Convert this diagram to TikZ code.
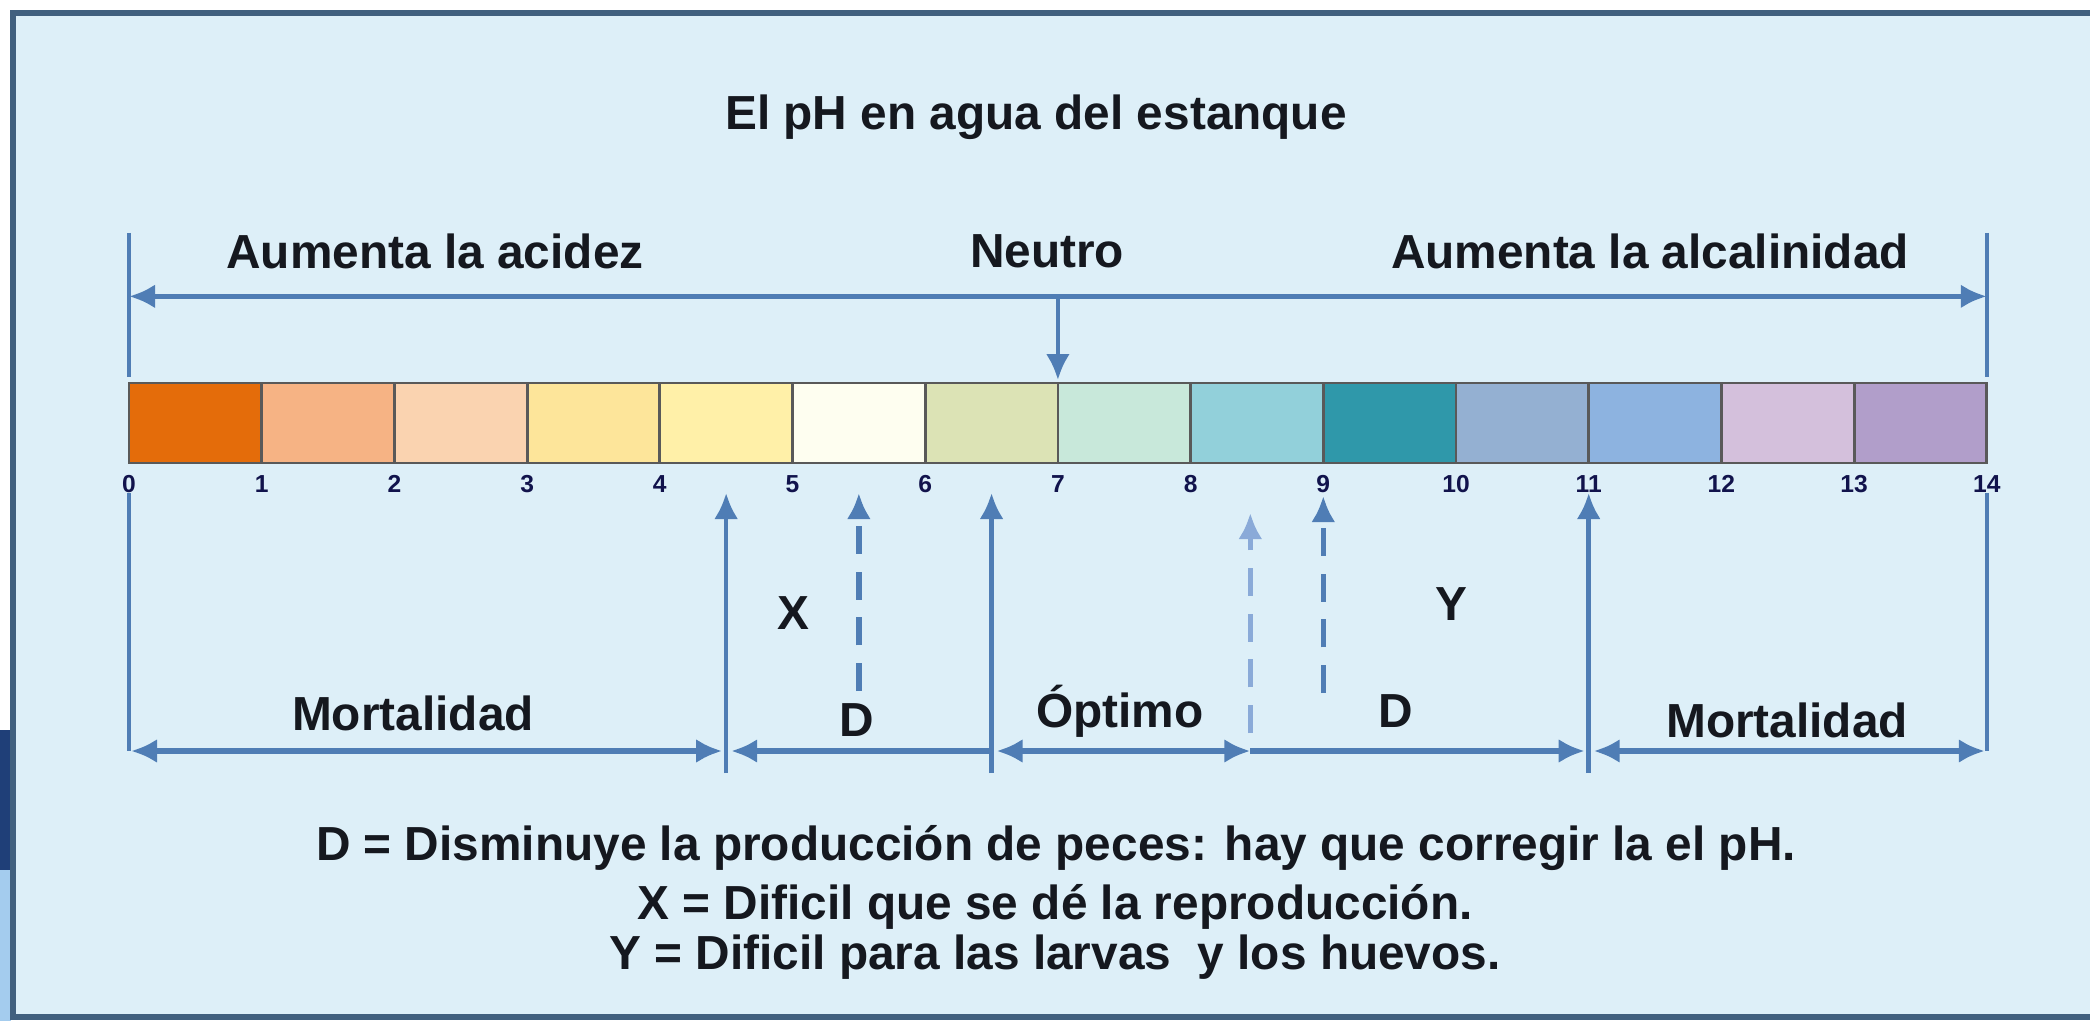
\documentclass[tikz,border=0pt]{standalone}
\usepackage{xcolor}
\usepackage{fontspec}
\setmainfont{Liberation Sans}
\usepackage{tikz}
\usetikzlibrary{arrows.meta, calc, positioning}
\tikzset{>={Latex[length=2.6mm,width=2.4mm]}}

\definecolor{bgblue}{HTML}{DDEFF8}
\definecolor{framecol}{HTML}{41607F}
\definecolor{arrowblue}{HTML}{4F7DB5}
\definecolor{lightarrow}{HTML}{8AAAD8}
\definecolor{inkcol}{HTML}{15181F}
\definecolor{edgedark}{HTML}{1F3F78}
\definecolor{edgelight}{HTML}{A4CCEE}
\definecolor{phA}{HTML}{E46C0A}
\definecolor{phB}{HTML}{F6B384}
\definecolor{phC}{HTML}{FAD3B0}
\definecolor{phD}{HTML}{FDE59A}
\definecolor{phE}{HTML}{FFF0A8}
\definecolor{phF}{HTML}{FEFEF0}
\definecolor{phG}{HTML}{DCE3B5}
\definecolor{phH}{HTML}{C8E8DA}
\definecolor{phI}{HTML}{92D0DA}
\definecolor{phJ}{HTML}{2F98AA}
\definecolor{phK}{HTML}{94B0D2}
\definecolor{phL}{HTML}{8DB3E0}
\definecolor{phM}{HTML}{D4C0DC}
\definecolor{phN}{HTML}{B19ECA}

\def\barleft{1.29}
\def\phunit{1.327}
\def\bartop{6.38}
\def\barheight{0.80}
\def\toparrow{7.25}
\def\lowarrow{2.70}
\def\guidetop{5.28}

\tikzset{
  bigtext/.style={font=\bfseries\fontsize{13.6}{16}\selectfont, text=inkcol, inner sep=0pt},
  ticktext/.style={font=\bfseries\fontsize{7}{8}\selectfont, text=inkcol!80!blue, inner sep=0pt},
  guideline/.style={arrowblue, line width=1.1pt},
  rangearrow/.style={arrowblue, line width=1.5pt},
  markarrow/.style={arrowblue, line width=1.3pt, ->},
  dasharrow/.style={arrowblue, line width=1.6pt, dash pattern=on 8pt off 5pt, ->},
}

\begin{document}
\begin{tikzpicture}

\useasboundingbox (0,0) rectangle (20.90,10.21);

% Background and frame
\fill[white] (0,0) rectangle (20.90,10.21);
\fill[bgblue] (0.13,0.04) rectangle (20.90,10.08);
\fill[edgelight] (0,0) rectangle (0.11,1.51);
\fill[edgedark] (0,1.51) rectangle (0.11,2.91);
\draw[framecol, line width=1.5pt] (20.90,10.08) -- (0.13,10.08) -- (0.13,0.04) -- (20.90,0.04);

% Title and headers
\node[bigtext] (title) at (10.36, 9.04) {El pH en agua del estanque};
\node[bigtext] (acid) at (4.35, 7.70) {Aumenta la acidez};
\node[bigtext] (neutro) at (10.47, 7.70) {Neutro};
\node[bigtext] (alcal) at (16.50, 7.70) {Aumenta la alcalinidad};

% Colour bar and tick numbers
\foreach \c [count=\i from 0] in {phA,phB,phC,phD,phE,phF,phG,phH,phI,phJ,phK,phL,phM,phN}
  \draw[black!65, line width=0.8pt, fill=\c] (\barleft+\i*\phunit, \bartop) rectangle ++(\phunit, -\barheight);

\foreach \i in {0,...,14} {
  \coordinate (p\i) at (\barleft+\i*\phunit, \bartop);
  \node[ticktext] (n\i) at (\barleft+\i*\phunit, 5.37) {\i};
}

% Upper range
\coordinate (ulefttop) at (\barleft, 7.88);
\coordinate (uleftbot) at (\barleft, 6.44);
\coordinate (urighttop) at (\barleft+14*\phunit, 7.88);
\coordinate (urightbot) at (\barleft+14*\phunit, 6.44);
\draw[guideline] (ulefttop) -- (uleftbot);
\draw[guideline] (urighttop) -- (urightbot);
\draw[rangearrow, <->] ($(ulefttop)!0.44!(uleftbot)$) -- ($(urighttop)!0.44!(urightbot)$);
\coordinate (neutrostart) at (\barleft+7*\phunit, \toparrow);
\draw[markarrow] (neutrostart) -- ($(p7)+(0,0.03)$);

% Lower guides and marks
\coordinate (lleft) at (\barleft, \guidetop);
\coordinate (lright) at (\barleft+14*\phunit, \guidetop);
\coordinate (lleftbot) at (\barleft, \lowarrow);
\coordinate (lrightbot) at (\barleft+14*\phunit, \lowarrow);
\draw[guideline] (lleft) -- (lleftbot);
\draw[guideline] (lright) -- (lrightbot);

\foreach \v/\name in {4.5/ma, 6.5/mb, 11/mc} {
  \coordinate (\name top) at (\barleft+\v*\phunit, \guidetop);
  \coordinate (\name bot) at (\barleft+\v*\phunit, 2.48);
  \draw[markarrow] (\name bot) -- (\name top);
}

\coordinate (da) at (\barleft+5.5*\phunit, 3.30);
\coordinate (db) at (\barleft+8.45*\phunit, 2.88);
\coordinate (dc) at (\barleft+9*\phunit, 3.28);
\draw[dasharrow] (da) -- ++(0, 1.98);
\draw[dasharrow, lightarrow] (db) -- ++(0, 2.20);
\draw[dasharrow] (dc) -- ++(0, 1.97);

\node[bigtext] (xmark) at (7.93, 4.08) {X};
\node[bigtext] (ymark) at (14.51, 4.17) {Y};

% Lower ranges
\coordinate (ra) at (\barleft+4.5*\phunit, \lowarrow);
\coordinate (rb) at (\barleft+6.5*\phunit, \lowarrow);
\coordinate (rc) at (\barleft+8.45*\phunit, \lowarrow);
\coordinate (rd) at (\barleft+11*\phunit, \lowarrow);
\draw[rangearrow, <->] ($(lleftbot)+(0.02,0)$) -- ($(ra)+(-0.04,0)$);
\draw[rangearrow, <-] ($(ra)+(0.05,0)$) -- (rb);
\draw[rangearrow, <->] ($(rb)+(0.05,0)$) -- (rc);
\draw[rangearrow, ->] (rc) -- ($(rd)+(-0.04,0)$);
\draw[rangearrow, <->] ($(rd)+(0.05,0)$) -- ($(lrightbot)+(-0.02,0)$);

\node[bigtext] (morta) at (4.13, 3.08) {Mortalidad};
\node[bigtext] (dleft) at (8.57, 3.01) {D};
\node[bigtext] (optimo) at (11.20, 3.10) {Óptimo};
\node[bigtext] (dright) at (13.96, 3.10) {D};
\node[bigtext] (mortb) at (17.87, 3.01) {Mortalidad};

% Key
\node[bigtext] (keyd) at (10.56, 1.73) {D = Disminuye la producción de peces: hay que corregir la el pH.};
\node[bigtext] (keyx) at (10.55, 1.14) {X = Dificil que se dé la reproducción.};
\node[bigtext] (keyy) at (10.55, 0.64) {Y = Dificil para las larvas\ \ y los huevos.};

\end{tikzpicture}
\end{document}
